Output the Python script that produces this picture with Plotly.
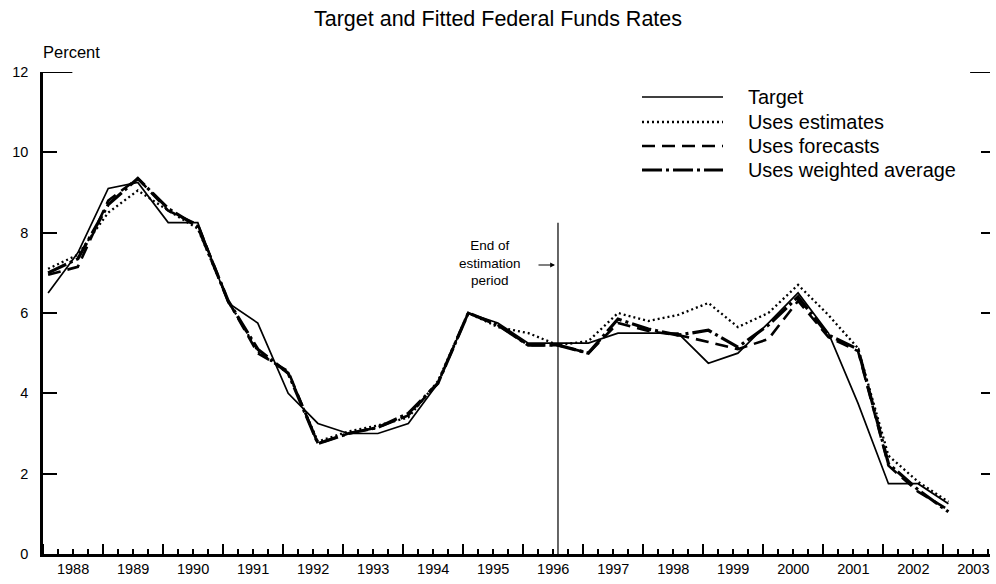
import plotly.graph_objects as go

# ---- data (semiannual FOMC forecast dates, Feb and Jul) ----
dates = [
    "1988-02-01", "1988-07-31", "1989-02-01", "1989-07-31", "1990-02-01", "1990-07-31",
    "1991-02-01", "1991-07-31", "1992-02-01", "1992-07-31", "1993-02-01", "1993-07-31",
    "1994-02-01", "1994-07-31", "1995-02-01", "1995-07-31", "1996-02-01", "1996-07-31",
    "1997-02-01", "1997-07-31", "1998-02-01", "1998-07-31", "1999-02-01", "1999-07-31",
    "2000-02-01", "2000-07-31", "2001-02-01", "2001-07-31", "2002-02-01", "2002-07-31",
    "2003-02-01",
]
target = [6.5, 7.5, 9.1, 9.25, 8.25, 8.25, 6.25, 5.75, 4.0, 3.25, 3.0, 3.0,
          3.25, 4.25, 6.0, 5.75, 5.25, 5.25, 5.25, 5.5, 5.5, 5.5, 4.75, 5.0,
          5.75, 6.5, 5.5, 3.75, 1.75, 1.75, 1.25]
uses_estimates = [7.1, 7.45, 8.5, 9.05, 8.55, 8.1, 6.3, 5.05, 4.5, 2.8, 3.05, 3.2,
                  3.4, 4.3, 6.0, 5.65, 5.5, 5.2, 5.3, 6.0, 5.8, 5.95, 6.25, 5.65,
                  6.0, 6.7, 5.95, 5.12, 2.45, 1.8, 1.3]
uses_forecasts = [6.95, 7.15, 8.8, 9.35, 8.55, 8.2, 6.3, 5.0, 4.55, 2.75, 3.0, 3.15,
                  3.45, 4.25, 6.0, 5.7, 5.2, 5.2, 5.0, 5.75, 5.55, 5.45, 5.28, 5.1,
                  5.35, 6.3, 5.4, 5.05, 2.2, 1.55, 1.1]
uses_weighted = [7.0, 7.35, 8.7, 9.35, 8.6, 8.15, 6.3, 5.1, 4.5, 2.75, 3.0, 3.15,
                 3.5, 4.25, 6.0, 5.7, 5.2, 5.2, 5.0, 5.85, 5.6, 5.45, 5.57, 5.15,
                 5.7, 6.4, 5.45, 5.1, 2.25, 1.6, 1.05]

series_names = ["Target", "Uses estimates", "Uses forecasts", "Uses weighted average"]
y_ticks = [0, 2, 4, 6, 8, 10, 12]
end_estimation = "1996-07-31"

FONT = "Liberation Sans, Arial, Helvetica, sans-serif"

styles = [
    dict(width=1.7, dash="solid"),
    dict(width=2.3, dash="2px,3px"),
    dict(width=2.6, dash="13px,7px"),
    dict(width=3.2, dash="20px,4px,3px,4px"),
]
all_series = [target, uses_estimates, uses_forecasts, uses_weighted]

fig = go.Figure()
for name, vals, st in zip(series_names, all_series, styles):
    fig.add_trace(go.Scatter(x=dates, y=vals, mode="lines", name=name,
                             line=dict(color="black", **st), showlegend=False,
                             hoverinfo="skip"))

# invisible helper trace so the right-hand tick axis renders
fig.add_trace(go.Scatter(x=dates, y=target, xaxis="x", yaxis="y2", mode="lines",
                         opacity=0, showlegend=False, hoverinfo="skip"))

fig.update_layout(
    width=996, height=584, autosize=False,
    margin=dict(l=43, r=6, t=72, b=30),
    paper_bgcolor="white", plot_bgcolor="white",
    font=dict(family=FONT, color="black"),
    title=dict(text="Target and Fitted Federal Funds Rates", x=0.5, xanchor="center",
               y=1 - 18 / 584, yanchor="middle", font=dict(size=21.5, family=FONT)),
    xaxis=dict(
        type="date", range=["1988-01-01", "2003-10-12"], automargin=False,
        tick0="1988-01-01", dtick="M12", tickformat="%Y", ticklabelmode="period",
        ticks="inside", ticklen=10, tickwidth=2, tickcolor="black",
        minor=dict(dtick="M3", tick0="1988-01-01", ticks="inside", ticklen=5,
                   tickwidth=1.5, tickcolor="black", showgrid=False),
        showline=True, linewidth=2.5, linecolor="black", showgrid=False, zeroline=False,
        tickfont=dict(size=14.5, family=FONT),
    ),
    yaxis=dict(
        range=[0, 12], tickvals=y_ticks, ticks="inside", ticklen=14, tickwidth=2,
        automargin=False,
        tickcolor="black", showline=True, linewidth=2.5, linecolor="black",
        showgrid=False, zeroline=False, tickfont=dict(size=14.5, family=FONT),
        ticklabelstandoff=9,
    ),
    yaxis2=dict(
        range=[0, 12], tickvals=y_ticks, overlaying="y", side="right", anchor="x",
        automargin=False,
        ticks="inside", ticklen=9, tickwidth=2, tickcolor="black",
        showticklabels=False, showline=False, showgrid=False, zeroline=False,
    ),
)

# longer top ticks at 12
fig.add_shape(type="line", xref="paper", yref="y", x0=0, x1=0.031, y0=12, y1=12,
              line=dict(color="black", width=2))
fig.add_shape(type="line", xref="paper", yref="y", x0=0.979, x1=1.0, y0=12, y1=12,
              line=dict(color="black", width=2))

# end of estimation period line
fig.add_shape(type="line", xref="x", yref="y", x0=end_estimation, x1=end_estimation,
              y0=0, y1=8.25, line=dict(color="black", width=1.2))
fig.add_annotation(x=end_estimation, y=(554 - 263) / 40.17, xref="x", yref="y",
                   xshift=-68, text="End of<br>estimation<br>period", showarrow=False,
                   font=dict(size=13.5, family=FONT), xanchor="center", yanchor="middle")
fig.add_annotation(x=end_estimation, y=(554 - 265) / 40.17, xref="x", yref="y", text="",
                   showarrow=True, ax=-21, ay=0, arrowhead=2, arrowsize=0.8,
                   arrowwidth=1.2, standoff=3, arrowcolor="black")

# "Percent" label
fig.add_annotation(x=0, y=(554 - 52) / 482, xref="paper", yref="paper", text="Percent",
                   showarrow=False, xanchor="left", yanchor="middle", xshift=-2,
                   font=dict(size=16.5, family=FONT))

# custom legend
rows_px = [97, 122, 146, 170]
for name, st, py in zip(series_names, styles, rows_px):
    yp = (554 - py) / 482
    fig.add_shape(type="line", xref="paper", yref="paper",
                  x0=(642 - 43) / 947, x1=(723 - 43) / 947, y0=yp, y1=yp,
                  line=dict(color="black", width=st["width"], dash=st["dash"]))
    fig.add_annotation(x=(748 - 43) / 947, y=yp, xref="paper", yref="paper", text=name,
                       showarrow=False, xanchor="left", yanchor="middle", xshift=-2,
                       font=dict(size=19.9, family=FONT))

fig.write_html("out.html",
               config={"displayModeBar": False},
               post_script="document.body.style.margin='0';document.body.style.padding='0';")
